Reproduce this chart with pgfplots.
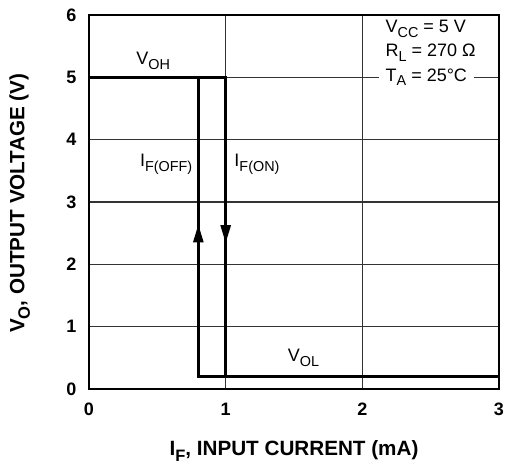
\documentclass[border=0pt]{standalone}
\usepackage{fontspec}
\setmainfont{Liberation Sans}
\usepackage{pgfplots}
\pgfplotsset{compat=1.18}
\usetikzlibrary{arrows.meta}
\newcommand\sub[1]{\raisebox{-0.5ex}{\scalebox{0.8}{#1}}}
\begin{document}
\begin{tikzpicture}
\begin{axis}[
  scale only axis,
  width=307.5pt, height=280.5pt,
  xmin=0, xmax=3, ymin=0, ymax=6,
  xtick={0,1,2,3}, ytick={0,1,2,3,4,5,6},
  grid=major,
  major grid style={line width=0.8pt, black!80},
  axis line style={line width=0.9pt},
  tick style={draw=none},
  /pgf/number format/assume math mode=true,
  ticklabel style={font=\fontsize{13.5}{15}\selectfont\bfseries},
  xticklabel style={yshift=-7pt},
  yticklabel style={xshift=-6pt},
  xlabel={\textbf{I\sub{F}, INPUT CURRENT (mA)}},
  ylabel={\textbf{V\sub{O}, OUTPUT VOLTAGE (V)}},
  label style={font=\fontsize{15.5}{17}\selectfont},
  xlabel style={at={([yshift=-46.5pt]axis description cs:0.5,0)}, anchor=center},
  ylabel style={at={([xshift=-52pt,yshift=-1pt]axis description cs:0,0.5)}, anchor=center},
  clip=false,
]
\draw[line width=2.2pt] (rel axis cs:0,1) -- (rel axis cs:0,0) -- (rel axis cs:1,0);
\addplot[black, line width=2pt, mark=none] coordinates {(0,5) (1,5) (1,0.2)};
\addplot[black, line width=2pt, mark=none] coordinates {(0.8,5) (0.8,0.2) (3,0.2)};
\addplot[black, line width=2pt, mark=none, -{Triangle[length=13.5pt,width=7.5pt]}] coordinates {(0.8,2.3) (0.8,2.64)};
\addplot[black, line width=2pt, mark=none, -{Triangle[length=13.5pt,width=7.5pt]}] coordinates {(1,2.7) (1,2.34)};
\node[font=\fontsize{13.5}{15}\selectfont] at (axis cs:0.47,5.27) {V\sub{OH}};
\node[font=\fontsize{13.5}{15}\selectfont, anchor=east] at (axis cs:0.79,3.6) {I\sub{F(OFF)}};
\node[font=\fontsize{13.5}{15}\selectfont, anchor=west] at (axis cs:1.03,3.6) {I\sub{F(ON)}};
\node[font=\fontsize{13.5}{15}\selectfont] at (axis cs:1.57,0.5) {V\sub{OL}};
\node[font=\fontsize{13.5}{15}\selectfont, anchor=west, fill=white, inner xsep=5pt, inner ysep=1.5pt] at (axis cs:2.12,5.78) {V\sub{CC} = 5 V};
\node[font=\fontsize{13.5}{15}\selectfont, anchor=west, fill=white, inner xsep=5pt, inner ysep=1.5pt] at (axis cs:2.12,5.40) {R\sub{L} = 270 Ω};
\node[font=\fontsize{13.5}{15}\selectfont, anchor=west, fill=white, inner xsep=5pt, inner ysep=1.5pt] at (axis cs:2.12,5.0) {T\sub{A} = 25°C};
\end{axis}
\pgfresetboundingbox
\path (current axis.south west) ++(-66.75pt,-57pt) coordinate (bbA);
\path (current axis.north east) ++(6pt,11.25pt) coordinate (bbB);
\useasboundingbox (bbA) rectangle (bbB);
\end{tikzpicture}
\end{document}
